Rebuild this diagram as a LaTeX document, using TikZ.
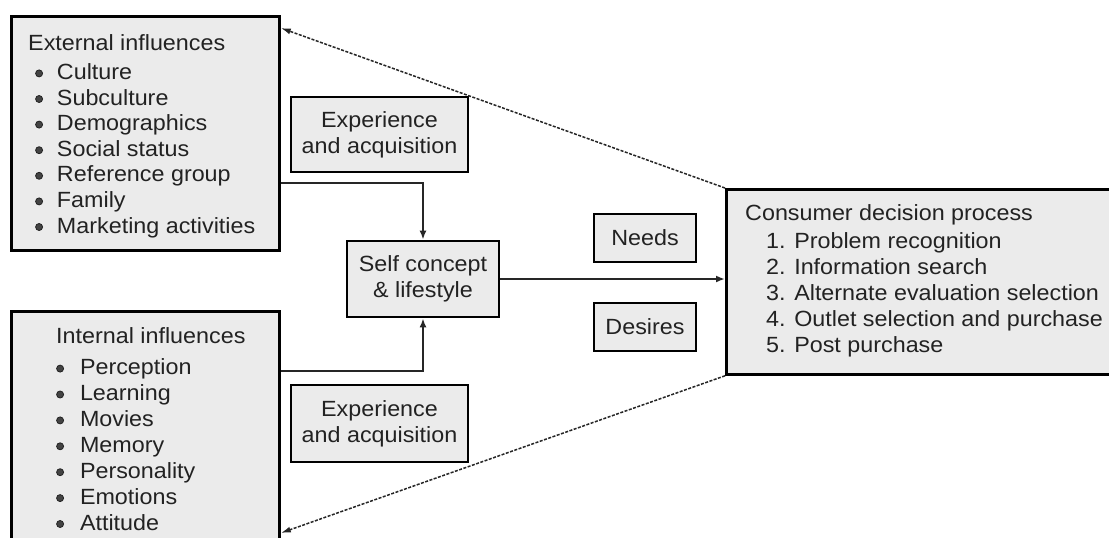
\documentclass[tikz,border=0pt]{standalone}
\usepackage{fontspec}
\setmainfont{Liberation Sans}[FakeStretch=1.06]
\usetikzlibrary{arrows.meta}
\definecolor{boxgray}{HTML}{EBEBEB}
\definecolor{ink}{HTML}{222222}
\definecolor{linegray}{HTML}{262626}
\newcommand\bul{\tikz[x=1pt,y=1pt,baseline=0pt]\fill[ink!85,draw=ink,line width=0.8pt] (0,6) circle (3.5);}
\begin{document}
\begin{tikzpicture}[x=1pt,y=-1pt,
  box/.style={draw=black, line width=2.8pt, fill=boxgray, inner sep=0pt, anchor=north west},
  cbox/.style={draw=black, line width=2.8pt, fill=boxgray, inner sep=0pt, text=ink,
    font=\fontsize{22}{26.3}\selectfont, align=center},
  txt/.style={inner sep=0pt, text=ink, align=left, anchor=base west},
  conn/.style={draw=linegray, line width=2pt, -{Latex[length=9pt,width=7pt]}},
  dconn/.style={draw=linegray, line width=1.5pt, dash pattern=on 3pt off 1.5pt, -{Latex[length=10pt,width=6pt]}}]
\clip (0,0) rectangle (1109,538);
\fill[white] (0,0) rectangle (1109,538);

% main boxes
\node[box, minimum width=268pt, minimum height=234pt] (ext) at (10,15) {};
\node[box, minimum width=268pt, minimum height=240pt] (int) at (10,310) {};
\node[box, minimum width=392pt, minimum height=185pt] (cons) at (725,188) {};

% texts of main boxes (anchored at the baseline of their last line)
\node[txt, font=\fontsize{22}{25.6}\selectfont] (exttxt) at (28,233) {External influences\\[3pt]
\hspace*{7pt}\bul\hspace*{14pt}Culture\\
\hspace*{7pt}\bul\hspace*{14pt}Subculture\\
\hspace*{7pt}\bul\hspace*{14pt}Demographics\\
\hspace*{7pt}\bul\hspace*{14pt}Social status\\
\hspace*{7pt}\bul\hspace*{14pt}Reference group\\
\hspace*{7pt}\bul\hspace*{14pt}Family\\
\hspace*{7pt}\bul\hspace*{14pt}Marketing activities};

\node[txt, font=\fontsize{22}{25.9}\selectfont] (inttxt) at (56,530) {Internal influences\\[5.4pt]
\hspace*{0pt}\bul\hspace*{16pt}Perception\\
\hspace*{0pt}\bul\hspace*{16pt}Learning\\
\hspace*{0pt}\bul\hspace*{16pt}Movies\\
\hspace*{0pt}\bul\hspace*{16pt}Memory\\
\hspace*{0pt}\bul\hspace*{16pt}Personality\\
\hspace*{0pt}\bul\hspace*{16pt}Emotions\\
\hspace*{0pt}\bul\hspace*{16pt}Attitude};

\node[txt, font=\fontsize{22}{25.85}\selectfont] (constxt) at (745,352.3) {Consumer decision process\\[3pt]
\hspace*{21pt}1. Problem recognition\\
\hspace*{21pt}2. Information search\\
\hspace*{21pt}3. Alternate evaluation selection\\
\hspace*{21pt}4. Outlet selection and purchase\\
\hspace*{21pt}5. Post purchase};

% small boxes
\node[cbox, minimum width=177pt, minimum height=75pt] (exp1) at (379.5,134.5) {Experience\\and acquisition};
\node[cbox, minimum width=177pt, minimum height=77pt] (exp2) at (379.5,423.5) {Experience\\and acquisition};
\node[cbox, minimum width=152pt, minimum height=76pt] (self) at (423,279) {Self concept\\\& lifestyle};
\node[cbox, minimum width=102pt, minimum height=48pt] (needs) at (645,238) {Needs};
\node[cbox, minimum width=102pt, minimum height=48pt] (desires) at (645,327) {Desires};

% connectors
\draw[conn] (ext.east |- 0,183) -| (self.north);
\draw[conn] (int.east |- 0,371) -| (self.south);
\draw[conn] (self.east) -- (self.east -| cons.west);
\draw[dconn] (cons.north west) -- (ext.east |- 0,28);
\draw[dconn] (cons.south west) -- (int.east |- 0,533);
\end{tikzpicture}
\end{document}
